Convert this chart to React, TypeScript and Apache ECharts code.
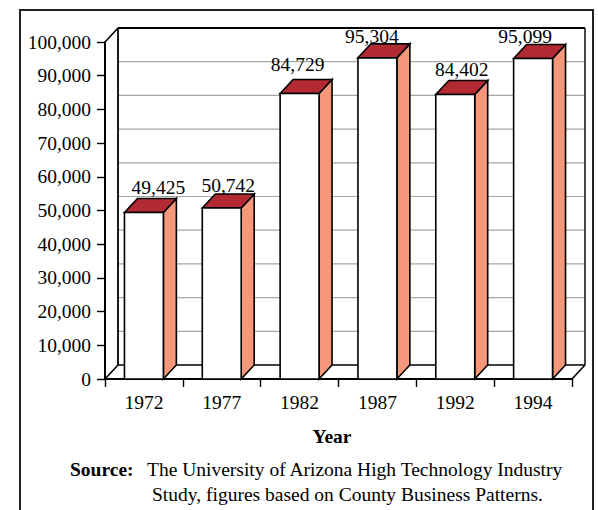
import React, { useEffect, useRef } from "react";
import * as echarts from "echarts";

// Census years on the category axis
const years = ["1972", "1977", "1982", "1987", "1992", "1994"];
// High-technology employment for each year
const employment = [49425, 50742, 84729, 95304, 84402, 95099];
// Value axis range
const yMin = 0;
const yMax = 100000;
const yStep = 10000;

// Per-label nudges [dx, dy] in pixels, relative to the top face centre
const labelNudge: [number, number][] = [
  [8, -1],
  [0, 1.5],
  [-8.5, -4.5],
  [-12, 3],
  [0, -1.5],
  [-14.5, 1.5],
];

const FONT = "'Liberation Serif', 'Times New Roman', serif";
const FS = 19.5;
const DEPTH_X = 13;
const DEPTH_Y = 14;
const FACE_TOP = "#B22A32";
const FACE_SIDE = "#F4977A";
const GRID_GRAY = "#a6a6a6";

const fmt = (v: number) => v.toLocaleString("en-US");

export default function App() {
  const ref = useRef<HTMLDivElement>(null);

  useEffect(() => {
    if (!ref.current) return;
    const chart = echarts.init(ref.current, null, { renderer: "svg" });

    // Back wall, floor and side wall of the 3D box
    const renderFrame = (params: any, api: any) => {
      const cs = params.coordSys;
      const x0 = cs.x;
      const x1 = cs.x + cs.width;
      const yTop = api.coord([0, yMax])[1];
      const yBot = api.coord([0, yMin])[1];
      const children: any[] = [];
      for (let v = yMin + yStep; v < yMax; v += yStep) {
        const y = api.coord([0, v])[1] - DEPTH_Y;
        children.push({
          type: "line",
          shape: { x1: x0 + DEPTH_X, y1: y, x2: x1 + DEPTH_X, y2: y },
          style: { stroke: GRID_GRAY, lineWidth: 1.2 },
        });
      }
      const seg = (ax: number, ay: number, bx: number, by: number, w = 1.6, c = "#000") => ({
        type: "line",
        shape: { x1: ax, y1: ay, x2: bx, y2: by },
        style: { stroke: c, lineWidth: w },
      });
      children.push(seg(x0 + DEPTH_X, yTop - DEPTH_Y, x1 + DEPTH_X, yTop - DEPTH_Y, 2.2));
      children.push(seg(x0 + DEPTH_X, yTop - DEPTH_Y, x0 + DEPTH_X, yBot - DEPTH_Y, 1.8));
      children.push(seg(x1 + DEPTH_X, yTop - DEPTH_Y, x1 + DEPTH_X, yBot - DEPTH_Y, 1.8, "#333"));
      children.push(seg(x0 + DEPTH_X, yBot - DEPTH_Y, x1 + DEPTH_X, yBot - DEPTH_Y, 1.6));
      children.push(seg(x0, yTop, x0 + DEPTH_X, yTop - DEPTH_Y, 1.6));
      children.push(seg(x0, yBot, x0 + DEPTH_X, yBot - DEPTH_Y, 1.6));
      children.push(seg(x1, yBot, x1 + DEPTH_X, yBot - DEPTH_Y, 1.6));
      return { type: "group", children };
    };

    // One 3D column: side, top and front faces plus its value label
    const renderBar = (params: any, api: any) => {
      const idx = api.value(0);
      const val = api.value(1);
      const [cx, yTop] = api.coord([idx, val]);
      const yBot = api.coord([idx, yMin])[1];
      const band = api.size([1, 0])[0];
      const w = band * 0.5;
      const x0 = cx - w / 2;
      const x1 = cx + w / 2;
      const edge = { stroke: "#000", lineWidth: 1.6, lineJoin: "miter" };
      const nudge = labelNudge[params.dataIndex] || [0, 0];
      return {
        type: "group",
        children: [
          {
            type: "polygon",
            shape: {
              points: [
                [x1, yTop],
                [x1 + DEPTH_X, yTop - DEPTH_Y],
                [x1 + DEPTH_X, yBot - DEPTH_Y],
                [x1, yBot],
              ],
            },
            style: { fill: FACE_SIDE, ...edge },
          },
          {
            type: "polygon",
            shape: {
              points: [
                [x0, yTop],
                [x0 + DEPTH_X, yTop - DEPTH_Y],
                [x1 + DEPTH_X, yTop - DEPTH_Y],
                [x1, yTop],
              ],
            },
            style: { fill: FACE_TOP, ...edge },
          },
          {
            type: "rect",
            shape: { x: x0, y: yTop, width: w, height: yBot - yTop },
            style: { fill: "#fff", ...edge },
          },
          {
            type: "text",
            x: cx + DEPTH_X / 2 + nudge[0],
            y: yTop - DEPTH_Y - 10 + nudge[1],
            style: {
              text: fmt(val),
              fill: "#000",
              fontSize: FS,
              fontFamily: FONT,
              align: "center",
              verticalAlign: "middle",
            },
          },
        ],
      };
    };

    const txt = (text: string, x: number, y: number, bold = false, align = "left") => ({
      type: "text",
      x,
      y,
      style: {
        text,
        fill: "#000",
        fontSize: FS,
        fontWeight: bold ? "bold" : "normal",
        fontFamily: FONT,
        align,
        verticalAlign: "middle",
      },
    });

    chart.setOption({
      animation: false,
      backgroundColor: "#fff",
      textStyle: { fontFamily: FONT },
      grid: { left: 105, top: 42, right: 26, bottom: 131, containLabel: false },
      xAxis: {
        type: "category",
        data: years,
        boundaryGap: true,
        axisLine: { show: true, lineStyle: { color: "#000", width: 2 } },
        axisTick: { show: true, length: 8, alignWithLabel: false, lineStyle: { color: "#000", width: 1.4 } },
        axisLabel: { color: "#000", fontSize: FS, fontFamily: FONT, margin: 13 },
        splitLine: { show: false },
      },
      yAxis: {
        type: "value",
        min: yMin,
        max: yMax,
        interval: yStep,
        axisLine: { show: true, lineStyle: { color: "#000", width: 2 } },
        axisTick: { show: true, length: 8, lineStyle: { color: "#000", width: 1.4 } },
        axisLabel: {
          color: "#000",
          fontSize: FS,
          fontFamily: FONT,
          margin: 14,
          formatter: (v: number) => fmt(v),
        },
        splitLine: { show: false },
      },
      series: [
        {
          type: "custom",
          name: "frame",
          silent: true,
          clip: false,
          z: 1,
          renderItem: renderFrame,
          data: [[0, 0]],
        },
        {
          type: "custom",
          name: "Employment",
          clip: false,
          z: 3,
          renderItem: renderBar,
          data: employment.map((v, i) => [i, v]),
        },
      ],
      graphic: [
        {
          type: "rect",
          shape: { x: 20, y: 10, width: 573, height: 530 },
          style: { fill: "none", stroke: "#222", lineWidth: 2 },
          z: 0,
        },
        txt("Year", 332, 436, true, "center"),
        txt("Source:", 70, 469, true),
        txt("The University of Arizona High Technology Industry", 147, 469),
        txt("Study, figures based on County Business Patterns.", 152, 494),
      ],
    });

    return () => chart.dispose();
  }, []);

  return (
    <div
      ref={ref}
      style={{ position: "absolute", left: 0, top: 0, width: 598, height: 510, background: "#fff" }}
    />
  );
}
